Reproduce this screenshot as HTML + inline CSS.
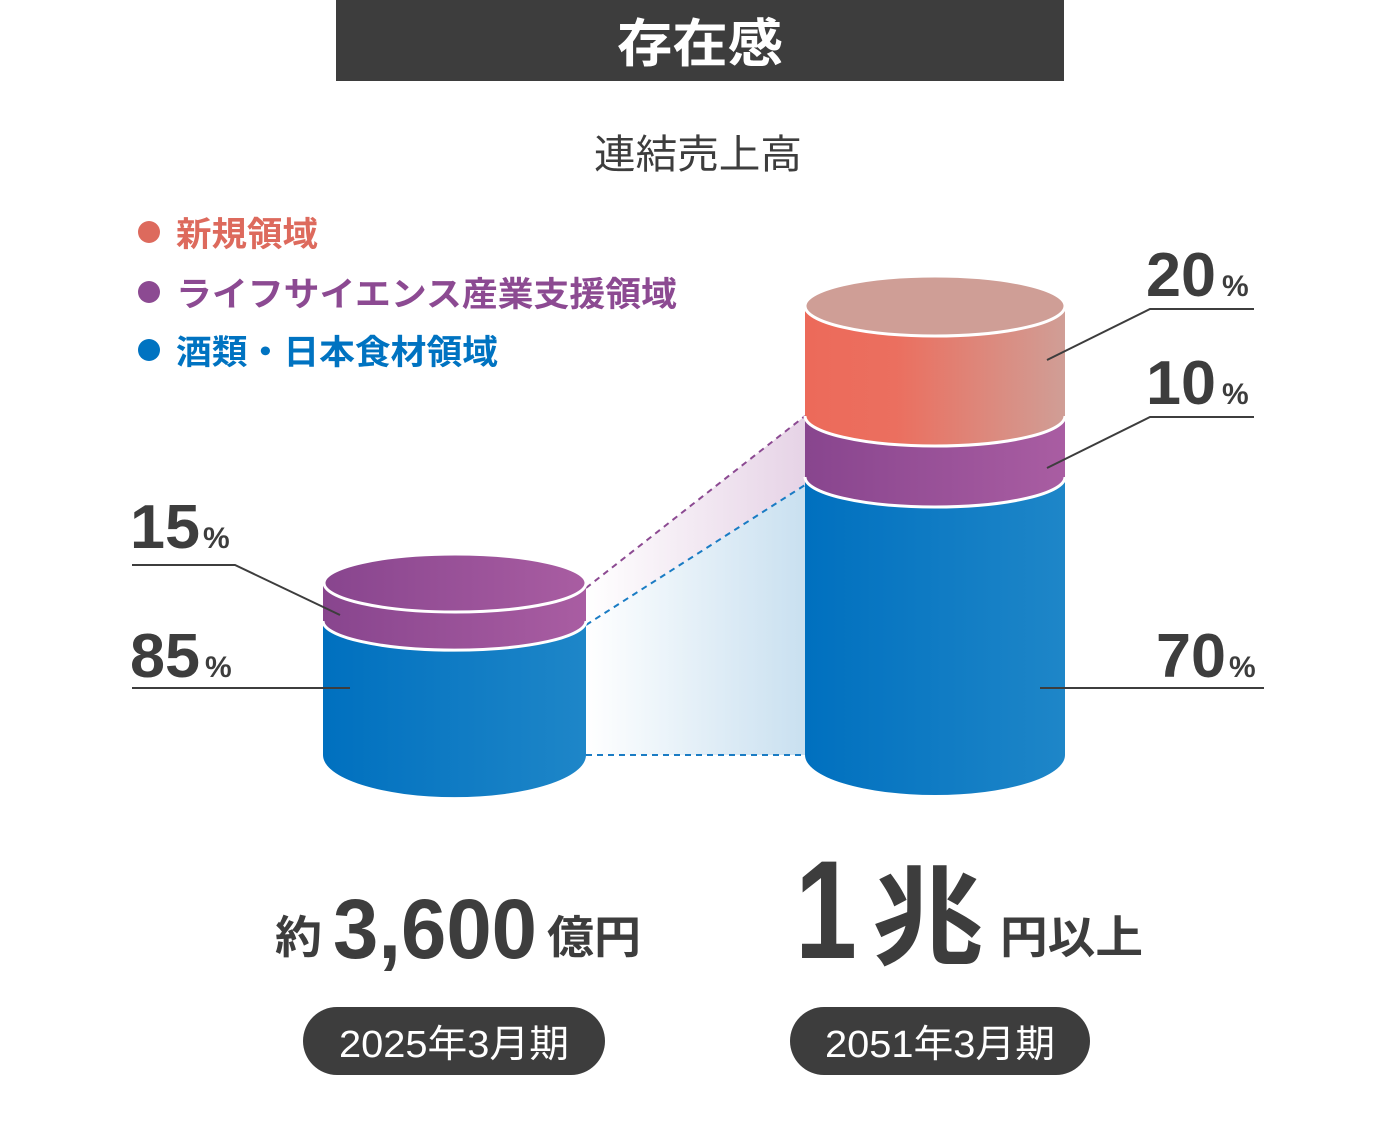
<!DOCTYPE html>
<html><head><meta charset="utf-8"><style>
html,body{margin:0;padding:0;background:#fff;}
svg{display:block;}
text{font-family:"Liberation Sans","Noto Sans CJK JP",sans-serif;}
</style></head><body>
<svg width="1400" height="1124" viewBox="0 0 1400 1124" xmlns="http://www.w3.org/2000/svg">
<defs>
<linearGradient id="blue" x1="0" x2="1" y1="0" y2="0"><stop offset="0" stop-color="#0070bf"/><stop offset="1" stop-color="#1e86c8"/></linearGradient>
<linearGradient id="purp" x1="0" x2="1"><stop offset="0" stop-color="#88458e"/><stop offset="1" stop-color="#a95da2"/></linearGradient>
<linearGradient id="red" x1="0" x2="1"><stop offset="0" stop-color="#ec6a5a"/><stop offset="0.35" stop-color="#eb6f5f"/><stop offset="1" stop-color="#d09e96"/></linearGradient>
<linearGradient id="shB" x1="0" x2="1"><stop offset="0" stop-color="#ffffff"/><stop offset="1" stop-color="#c9e0f0"/></linearGradient>
<linearGradient id="shP" x1="0" x2="1"><stop offset="0" stop-color="#ffffff"/><stop offset="1" stop-color="#e6d3e6"/></linearGradient>
</defs>
<rect x="336" y="0" width="728" height="81" fill="#3d3d3d"/>
<text x="617" y="62" font-size="52" font-weight="bold" fill="#fff" textLength="166" lengthAdjust="spacingAndGlyphs">存在感</text>
<text x="594" y="168" font-size="40" fill="#3d3d3d" textLength="208" lengthAdjust="spacingAndGlyphs">連結売上高</text>
<circle cx="149" cy="232" r="11" fill="#dd6a5d"/>
<text x="176" y="246" font-size="34" font-weight="bold" fill="#dd6a5d" textLength="142" lengthAdjust="spacingAndGlyphs">新規領域</text>
<circle cx="149" cy="292" r="11" fill="#8c4a92"/>
<text x="176" y="306" font-size="34" font-weight="bold" fill="#8c4a92" textLength="501" lengthAdjust="spacingAndGlyphs">ライフサイエンス産業支援領域</text>
<circle cx="149" cy="350" r="11" fill="#0073c1"/>
<text x="176" y="364" font-size="34" font-weight="bold" fill="#0073c1" textLength="322" lengthAdjust="spacingAndGlyphs">酒類・日本食材領域</text>

<polygon points="586,625 805,485 805,755 586,755" fill="url(#shB)"/>
<polygon points="586,588 805,416 805,485 586,625" fill="url(#shP)"/>
<line x1="586" y1="588" x2="805" y2="416" stroke="#8c4a92" stroke-width="2" stroke-dasharray="6,5"/>
<line x1="586" y1="625" x2="805" y2="485" stroke="#1a7cc4" stroke-width="2" stroke-dasharray="6,5"/>
<line x1="586" y1="755" x2="805" y2="755" stroke="#1a7cc4" stroke-width="2" stroke-dasharray="6,5"/>

<path d="M323,621 L323,755 A131,42 0 0 0 586,755 L586,621 Z" fill="url(#blue)"/>
<path d="M323,583 L323,621 A131,29 0 0 0 586,621 L586,583 Z" fill="url(#purp)"/>
<path d="M323,621 A131,29 0 0 0 586,621" fill="none" stroke="#fff" stroke-width="3"/>
<ellipse cx="455" cy="583" rx="131" ry="29" fill="url(#purp)" stroke="#fff" stroke-width="3"/>

<path d="M805,477 L805,755 A130,40 0 0 0 1065,755 L1065,477 Z" fill="url(#blue)"/>
<path d="M805,416 L805,477 A130,30 0 0 0 1065,477 L1065,416 Z" fill="url(#purp)"/>
<path d="M805,477 A130,30 0 0 0 1065,477" fill="none" stroke="#fff" stroke-width="3"/>
<path d="M805,306 L805,416 A130,30 0 0 0 1065,416 L1065,306 Z" fill="url(#red)"/>
<path d="M805,416 A130,30 0 0 0 1065,416" fill="none" stroke="#fff" stroke-width="3"/>
<ellipse cx="935" cy="306" rx="130" ry="30" fill="#cf9e96" stroke="#fff" stroke-width="3"/>

<g stroke="#3d3d3d" stroke-width="2" fill="none">
<polyline points="132,565 235,565 340,615"/>
<polyline points="132,688 350,688"/>
<polyline points="1254,309 1150,309 1047,360"/>
<polyline points="1254,417 1150,417 1047,468"/>
<polyline points="1264,688 1040,688"/>
</g>
<g fill="#3d3d3d" font-weight="bold">
<text x="130" y="548" font-size="62" textLength="70" lengthAdjust="spacingAndGlyphs">15</text>
<text x="203" y="548" font-size="30">%</text>
<text x="130" y="677" font-size="62" textLength="70" lengthAdjust="spacingAndGlyphs">85</text>
<text x="205" y="677" font-size="30">%</text>
<text x="1146" y="296" font-size="62" textLength="70" lengthAdjust="spacingAndGlyphs">20</text>
<text x="1222" y="296" font-size="30">%</text>
<text x="1146" y="404" font-size="62" textLength="70" lengthAdjust="spacingAndGlyphs">10</text>
<text x="1222" y="404" font-size="30">%</text>
<text x="1156" y="677" font-size="62" textLength="70" lengthAdjust="spacingAndGlyphs">70</text>
<text x="1229" y="677" font-size="30">%</text>
<text x="275" y="953" font-size="45" textLength="47" lengthAdjust="spacingAndGlyphs">約</text>
<text x="333" y="958" font-size="84" textLength="204" lengthAdjust="spacingAndGlyphs">3,600</text>
<text x="547" y="953" font-size="45" textLength="94" lengthAdjust="spacingAndGlyphs">億円</text>
<text x="795" y="958" font-size="140" textLength="62" lengthAdjust="spacingAndGlyphs">1</text>
<text x="872" y="956" font-size="108" textLength="112" lengthAdjust="spacingAndGlyphs">兆</text>
<text x="1000" y="953" font-size="45" textLength="143" lengthAdjust="spacingAndGlyphs">円以上</text>
</g>
<rect x="303" y="1007" width="302" height="68" rx="34" fill="#3d3d3d"/>
<text x="454" y="1057" font-size="38" fill="#fff" text-anchor="middle" textLength="230" lengthAdjust="spacingAndGlyphs">2025年3月期</text>
<rect x="790" y="1007" width="300" height="68" rx="34" fill="#3d3d3d"/>
<text x="940" y="1057" font-size="38" fill="#fff" text-anchor="middle" textLength="230" lengthAdjust="spacingAndGlyphs">2051年3月期</text>
</svg>
</body></html>
